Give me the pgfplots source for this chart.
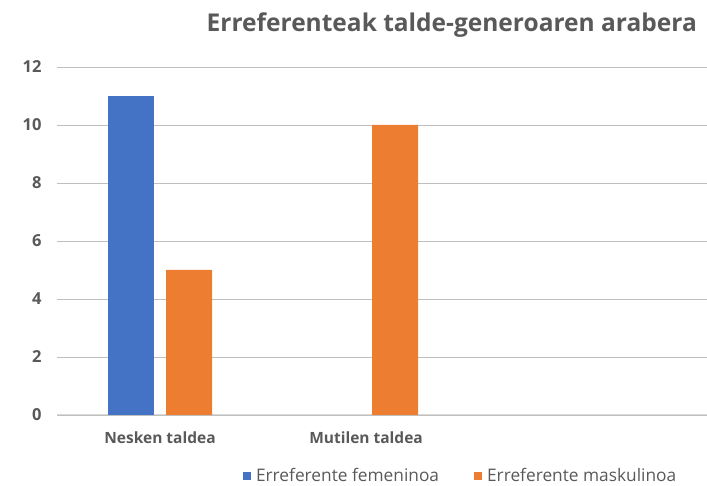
\documentclass[border=0pt]{standalone}
\usepackage{pgfplots}
\pgfplotsset{compat=1.18}
\usepackage{fontspec}
\setmainfont{Open Sans}
\definecolor{txt}{HTML}{595959}
\definecolor{grid}{HTML}{D9D9D9}
\definecolor{cblue}{HTML}{4472C4}
\definecolor{corange}{HTML}{ED7D31}
\begin{document}
\begin{tikzpicture}[x=1pt,y=1pt]
\useasboundingbox (0,0) rectangle (707,486);
\begin{axis}[
  at={(57pt,71pt)}, anchor=south west,
  scale only axis, width=650pt, height=348pt,
  ybar, bar width=46pt,
  xmin=-0.5, xmax=2.655,
  ymin=0, ymax=12, ytick={0,2,...,12},
  xtick={0,1}, xticklabels={Nesken taldea, Mutilen taldea},
  axis lines*=left,
  y axis line style={draw=none},
  x axis line style={draw=grid, line width=1pt, -},
  major tick length=0pt,
  xmajorgrids=false,
  ymajorgrids, grid style={grid, line width=0.8pt},
  /pgf/number format/assume math mode=true,
  yticklabel style={font=\fontsize{16.5}{16.5}\selectfont\bfseries, text=txt, xshift=-12pt},
  xticklabel style={font=\fontsize{15.5}{15.5}\selectfont\bfseries, text=txt, yshift=-13pt},
  legend style={at={(0.621,-0.174)}, anchor=center, draw=none, fill=none,
    legend columns=2, font=\fontsize{17.3}{17.3}\selectfont, text=txt,
    /tikz/every odd column/.append style={column sep=3pt},
    /tikz/every even column/.append style={column sep=33pt}},
  legend image code/.code={\fill[#1] (0pt,-4pt) rectangle (8pt,4pt);},
  clip=false,
]
\addplot[fill=cblue, draw=none, bar shift=-29pt] coordinates {(0,11)};
\addplot[fill=corange, draw=none, bar shift=29pt] coordinates {(0,5) (1,10)};
\legend{Erreferente femeninoa, Erreferente maskulinoa}
\end{axis}
\node[anchor=east, inner sep=0pt, font=\fontsize{24.5}{24.5}\selectfont\bfseries, text=txt] at (697,461) {Erreferenteak talde-generoaren arabera};
\end{tikzpicture}
\end{document}
